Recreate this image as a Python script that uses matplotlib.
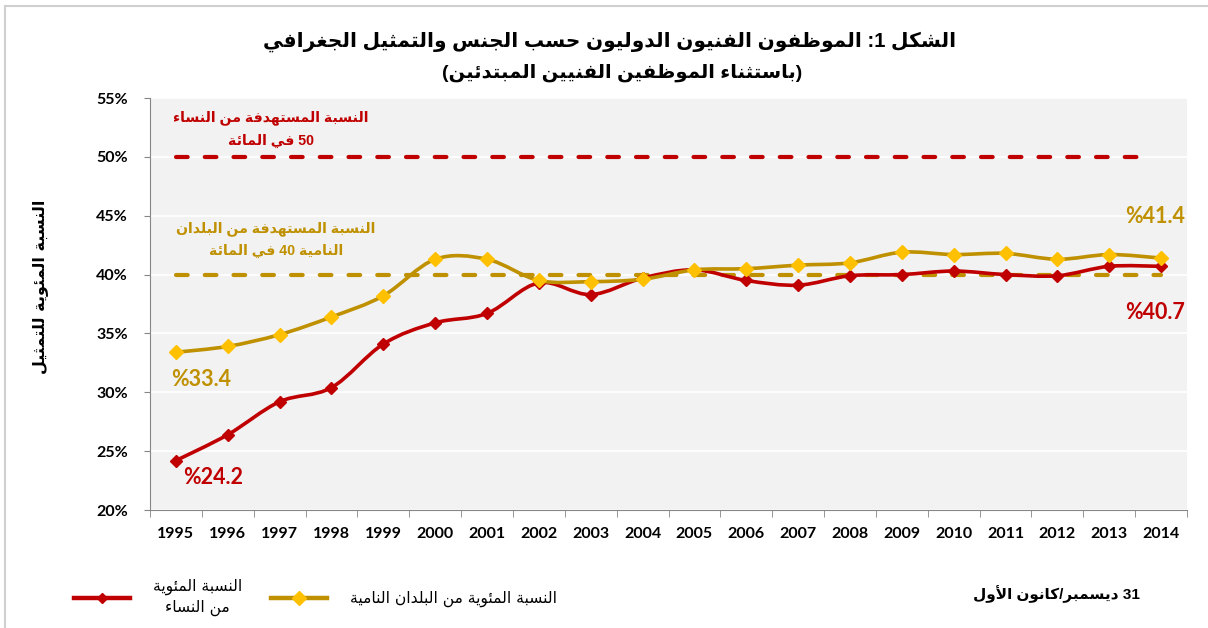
import re
import numpy as np
import matplotlib
matplotlib.use("Agg")
import matplotlib.pyplot as plt
from matplotlib.path import Path
from matplotlib.patches import PathPatch
from matplotlib.lines import Line2D

# ---------------- data ----------------
years = ["1995", "1996", "1997", "1998", "1999", "2000", "2001", "2002", "2003", "2004",
         "2005", "2006", "2007", "2008", "2009", "2010", "2011", "2012", "2013", "2014"]
women = [24.2, 26.4, 29.2, 30.4, 34.1, 35.9, 36.7, 39.3, 38.3, 39.7,
         40.4, 39.5, 39.1, 39.9, 40.0, 40.3, 40.0, 39.9, 40.7, 40.7]
developing = [33.4, 33.9, 34.9, 36.4, 38.2, 41.3, 41.3, 39.5, 39.4, 39.6,
              40.4, 40.5, 40.8, 41.0, 41.9, 41.7, 41.8, 41.3, 41.7, 41.4]
target_women = 50
target_developing = 40
ytick_values = [20, 25, 30, 35, 40, 45, 50, 55]
ytick_labels = ["20%", "25%", "30%", "35%", "40%", "45%", "50%", "55%"]

title_line1 = "الشكل 1: الموظفون الفنيون الدوليون حسب الجنس والتمثيل الجغرافي"
title_line2 = "(باستثناء الموظفين الفنيين المبتدئين)"
ylabel_text = "النسبة المئوية للتمثيل"
note_women = "النسبة المستهدفة من النساء\n50 في المائة"
note_dev = "النسبة المستهدفة من البلدان\nالنامية 40 في المائة"
legend_women = "النسبة المئوية\nمن النساء"
legend_dev = "النسبة المئوية من البلدان النامية"
date_note = "31 ديسمبر/كانون الأول"
label_w_first = "%24.2"
label_w_last = "%40.7"
label_d_first = "%33.4"
label_d_last = "%41.4"

# ---------------- minimal Arabic shaping + RTL ordering ----------------
_counts = [("\u0621", 1), ("\u0622", 2), ("\u0623", 2), ("\u0624", 2), ("\u0625", 2), ("\u0626", 4),
           ("\u0627", 2), ("\u0628", 4), ("\u0629", 2), ("\u062A", 4), ("\u062B", 4), ("\u062C", 4),
           ("\u062D", 4), ("\u062E", 4), ("\u062F", 2), ("\u0630", 2), ("\u0631", 2), ("\u0632", 2),
           ("\u0633", 4), ("\u0634", 4), ("\u0635", 4), ("\u0636", 4), ("\u0637", 4), ("\u0638", 4),
           ("\u0639", 4), ("\u063A", 4), ("\u0641", 4), ("\u0642", 4), ("\u0643", 4), ("\u0644", 4),
           ("\u0645", 4), ("\u0646", 4), ("\u0647", 4), ("\u0648", 2), ("\u0649", 2), ("\u064A", 4)]
FORMS = {}
_cp = 0xFE80
for _ch, _n in _counts:
    FORMS[_ch] = [chr(_cp + i) for i in range(_n)]
    _cp += _n
LAMALEF = {"\u0622": ("\uFEF5", "\uFEF6"), "\u0623": ("\uFEF7", "\uFEF8"),
           "\u0625": ("\uFEF9", "\uFEFA"), "\u0627": ("\uFEFB", "\uFEFC")}


def _jt(tok):
    kind, c = tok
    if kind == "LA":
        return "R"
    if c in FORMS:
        n = len(FORMS[c])
        return "D" if n == 4 else ("R" if n == 2 else "U")
    return None


def shape(s):
    toks = []
    i = 0
    while i < len(s):
        if s[i] == "\u0644" and i + 1 < len(s) and s[i + 1] in LAMALEF:
            toks.append(("LA", s[i + 1]))
            i += 2
        else:
            toks.append(("C", s[i]))
            i += 1
    out = []
    for k, t in enumerate(toks):
        typ = _jt(t)
        prev = _jt(toks[k - 1]) if k > 0 else None
        nxt = _jt(toks[k + 1]) if k + 1 < len(toks) else None
        cp = typ in ("D", "R") and prev == "D"
        cn = typ == "D" and nxt in ("D", "R")
        if t[0] == "LA":
            out.append(LAMALEF[t[1]][1 if cp else 0])
        elif t[1] in FORMS:
            f = FORMS[t[1]]
            if len(f) == 1:
                out.append(f[0])
            elif len(f) == 2:
                out.append(f[1] if cp else f[0])
            else:
                idx = 3 if (cp and cn) else 1 if cp else 2 if cn else 0
                out.append(f[idx])
        else:
            out.append(t[1])
    return "".join(out)


def ar(s):
    lines = []
    for line in s.split("\n"):
        v = shape(line)[::-1]
        v = re.sub(r"[0-9.]+", lambda m: m.group(0)[::-1], v)
        v = v.translate(str.maketrans("()", ")("))
        lines.append(v)
    return "\n".join(lines)


# ---------------- figure ----------------
plt.rcParams["font.family"] = ["DejaVu Sans"]
W, H = 1208, 628
fig = plt.figure(figsize=(W / 100, H / 100), dpi=100)
fig.patch.set_facecolor("white")

ax = fig.add_axes([150 / W, 1 - 510 / H, (1187 - 150) / W, (510 - 98) / H])
ax.set_facecolor("#F2F2F2")

RED = "#C00000"
GOLD_LINE = "#BF9000"
GOLD_MARK = "#FFC000"

x = np.arange(len(years))


def smooth_path(xs, ys):
    P = np.column_stack([xs, ys]).astype(float)
    n = len(P)
    verts = [P[0]]
    codes = [Path.MOVETO]
    for i in range(n - 1):
        p0 = P[i - 1] if i > 0 else P[i]
        p1 = P[i]
        p2 = P[i + 1]
        p3 = P[i + 2] if i + 2 < n else P[i + 1]
        c1 = p1 + (p2 - p0) / 6.0
        c2 = p2 - (p3 - p1) / 6.0
        verts += [c1, c2, p2]
        codes += [Path.CURVE4] * 3
    return Path(verts, codes)


# gridlines
ax.set_ylim(20, 55)
ax.set_xlim(-0.5, len(years) - 0.5)
ax.set_yticks(ytick_values)
ax.set_yticklabels(ytick_labels)
ax.yaxis.grid(True, color="white", linewidth=1.3)
ax.set_axisbelow(True)

# target lines
ax.plot([x[0], x[-1] - 0.15], [target_women] * 2, color=RED, lw=3,
        dashes=(2.8, 4.1), dash_capstyle="round", zorder=2)
ax.plot([x[0], x[-1]], [target_developing] * 2, color=GOLD_LINE, lw=3,
        dashes=(2.8, 4.1), dash_capstyle="round", zorder=2)

# series
ax.add_patch(PathPatch(smooth_path(x, women), fill=False, edgecolor=RED, lw=2.6,
                       capstyle="round", joinstyle="round", zorder=3))
ax.plot(x, women, linestyle="none", marker="D", ms=6.5, color=RED, mec=RED, zorder=4)
ax.add_patch(PathPatch(smooth_path(x, developing), fill=False, edgecolor=GOLD_LINE, lw=2.6,
                       capstyle="round", joinstyle="round", zorder=5))
ax.plot(x, developing, linestyle="none", marker="D", ms=7.5, color=GOLD_MARK, mec=GOLD_MARK, zorder=6)

# axes styling
for side in ["top", "right"]:
    ax.spines[side].set_visible(False)
ax.spines["left"].set_color("#868686")
ax.spines["bottom"].set_color("#868686")
ax.set_xticks(x)
ax.set_xticklabels(years)
ax.set_xticks(np.arange(-0.5, len(years), 1.0), minor=True)
ax.tick_params(axis="x", which="major", length=0, pad=12)
ax.tick_params(axis="x", which="minor", length=5, color="#868686", direction="out")
ax.tick_params(axis="y", which="major", length=4, color="#868686", direction="out", pad=12)
for lab in ax.get_xticklabels() + ax.get_yticklabels():
    lab.set_fontfamily(["Lato", "DejaVu Sans"])
    lab.set_fontweight("bold")
    lab.set_fontsize(11.5)
    lab.set_color("black")

# y label
fig.text(40 / W, 1 - 287 / H, ar(ylabel_text), rotation=90, ha="center", va="center",
         fontsize=11.5, fontweight="bold", color="black")

# title
fig.text(610 / W, 1 - 42 / H, ar(title_line1), ha="center", va="center",
         fontsize=14.5, fontweight="bold", family=["Liberation Sans", "DejaVu Sans"])
fig.text(622 / W, 1 - 73 / H, ar(title_line2), ha="center", va="center",
         fontsize=14, fontweight="bold", family=["Liberation Sans", "DejaVu Sans"])

# annotations
ax.text(1.83, 52.35, ar(note_women), ha="center", va="center", multialignment="center",
        fontsize=10.2, fontweight="bold", color=RED, linespacing=1.75,
        family=["Liberation Sans", "DejaVu Sans"])
ax.text(1.93, 42.95, ar(note_dev), ha="center", va="center", multialignment="center",
        fontsize=10.2, fontweight="bold", color=GOLD_LINE, linespacing=1.75,
        family=["Liberation Sans", "DejaVu Sans"])
ax.text(-0.1, 31.05, label_d_first, ha="left", va="center", fontsize=15.5, fontweight="bold",
        color=GOLD_LINE, family="Lato")
ax.text(0.13, 22.8, label_w_first, ha="left", va="center", fontsize=15.5, fontweight="bold",
        color=RED, family="Lato")
ax.text(19.46, 44.9, label_d_last, ha="right", va="center", fontsize=15.5, fontweight="bold",
        color=GOLD_LINE, family="Lato")
ax.text(19.46, 36.74, label_w_last, ha="right", va="center", fontsize=15.5, fontweight="bold",
        color=RED, family="Lato")

# legend
handles = [
    Line2D([], [], color=RED, lw=3.2, marker="D", ms=5.5, mfc=RED, mec=RED),
    Line2D([], [], color=GOLD_LINE, lw=3.2, marker="D", ms=7, mfc=GOLD_MARK, mec=GOLD_MARK),
]
leg = fig.legend(handles, [ar(legend_women), ar(legend_dev)], loc="center left",
                 bbox_to_anchor=(60 / W, 1 - 597 / H), ncol=2, frameon=False,
                 handlelength=3.6, handletextpad=1.45, columnspacing=1.9, numpoints=1,
                 prop={"size": 11.2, "family": ["DejaVu Sans"]})
for t in leg.get_texts():
    t.set_multialignment("center")
    t.set_linespacing(1.4)

# date note
fig.text(1140 / W, 1 - 594 / H, ar(date_note), ha="right", va="center", fontsize=11,
         fontweight="bold", family=["Liberation Sans", "DejaVu Sans"])

# frame lines (left and top)
fig.add_artist(Line2D([5 / W, 5 / W], [0, 1 - 6 / H], color="#D0D0D0", lw=1.5))
fig.add_artist(Line2D([5 / W, 1], [1 - 6 / H, 1 - 6 / H], color="#D0D0D0", lw=1.5))

fig.savefig("out.png", dpi=100)
